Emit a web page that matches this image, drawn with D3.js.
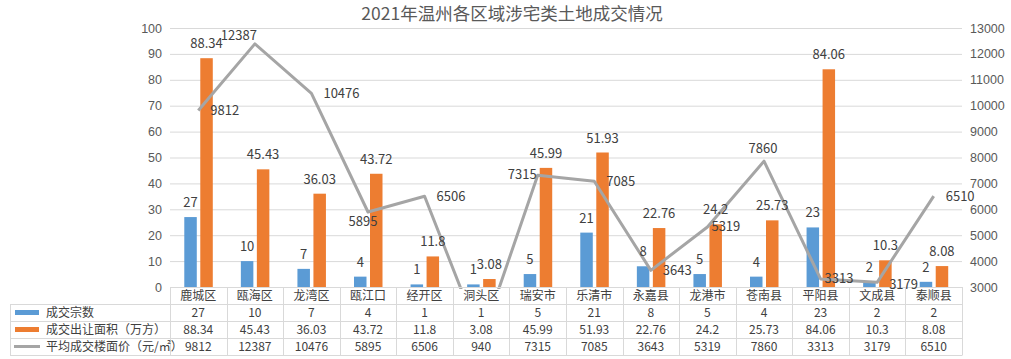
<!DOCTYPE html>
<html><head><meta charset="utf-8">
<script src="https://cdn.jsdelivr.net/npm/d3@7"></script>
<style>
html,body{margin:0;padding:0;background:#fff;}
svg{display:block;font-family:"Microsoft YaHei","Noto Sans CJK SC",sans-serif;}
</style></head>
<body>
<svg id="c" width="1011" height="359"></svg>
<script>
const title = "2021年温州各区域涉宅类土地成交情况";
const categories = ["鹿城区","瓯海区","龙湾区","瓯江口","经开区","洞头区","瑞安市","乐清市","永嘉县","龙港市","苍南县","平阳县","文成县","泰顺县"];
const dealCount = [27,10,7,4,1,1,5,21,8,5,4,23,2,2];
const dealArea = [88.34,45.43,36.03,43.72,11.8,3.08,45.99,51.93,22.76,24.2,25.73,84.06,10.3,8.08];
const avgPrice = [9812,12387,10476,5895,6506,940,7315,7085,3643,5319,7860,3313,3179,6510];
const seriesNames = ["成交宗数","成交出让面积（万方）","平均成交楼面价（元/㎡）"];
const leftTicks = [0,10,20,30,40,50,60,70,80,90,100];
const rightTicks = [3000,4000,5000,6000,7000,8000,9000,10000,11000,12000,13000];
// label placement keywords for line labels (style)
const lineLabelPos = ["r","al","r","b","r",null,"l","r","r","rn","a","rn","rb","r"];

const svg = d3.select("#c");
const L=170,R=962,T=28,B=287;
const colors = {blue:"#5B9BD5",orange:"#ED7D31",gray:"#A5A5A5",grid:"#D9D9D9",text:"#404040",axis:"#595959"};

const x = d3.scaleBand().domain(categories).range([L,R]);
const yL = d3.scaleLinear().domain([0,100]).range([B,T]);
const yR = d3.scaleLinear().domain([3000,13000]).range([B,T]);
const cx = c => x(c)+x.bandwidth()/2;

// title
svg.append("text").attr("x",512).attr("y",20).attr("text-anchor","middle")
  .attr("font-size",17.5).attr("fill",colors.axis).text(title);

// grid
svg.append("g").selectAll("line").data(leftTicks.filter(d=>d>0)).join("line")
  .attr("x1",L).attr("x2",R).attr("y1",d=>yL(d)+0.5).attr("y2",d=>yL(d)+0.5)
  .attr("stroke",colors.grid).attr("stroke-width",1);

// left axis
const axL = d3.axisLeft(yL).tickValues(leftTicks).tickSize(0).tickPadding(8);
const gL = svg.append("g").attr("transform",`translate(${L},0)`).call(axL);
gL.select(".domain").remove();
gL.selectAll("text").attr("font-size",12.5).attr("fill",colors.axis).attr("font-family",null);

// right axis
const axR = d3.axisRight(yR).tickValues(rightTicks).tickFormat(d3.format("d")).tickSize(0).tickPadding(8);
const gR = svg.append("g").attr("transform",`translate(${R},0)`).call(axR);
gR.select(".domain").remove();
gR.selectAll("text").attr("font-size",12.5).attr("fill",colors.axis).attr("font-family",null);

// bars
const bw = 12.5;
svg.append("g").selectAll("rect").data(categories).join("rect")
  .attr("x",(c)=>cx(c)-14).attr("width",bw)
  .attr("y",(c,i)=>yL(dealCount[i])).attr("height",(c,i)=>B-yL(dealCount[i]))
  .attr("fill",colors.blue);
svg.append("g").selectAll("rect").data(categories).join("rect")
  .attr("x",(c)=>cx(c)+2).attr("width",bw)
  .attr("y",(c,i)=>yL(dealArea[i])).attr("height",(c,i)=>B-yL(dealArea[i]))
  .attr("fill",colors.orange);

// line (clipped to plot)
svg.append("clipPath").attr("id","pc").append("rect").attr("x",0).attr("y",0).attr("width",1011).attr("height",B+2);
const line = d3.line().x((d,i)=>cx(categories[i])).y(d=>yR(d));
svg.append("path").datum(avgPrice).attr("d",line).attr("fill","none")
  .attr("stroke",colors.gray).attr("stroke-width",3).attr("stroke-linejoin","round")
  .attr("clip-path","url(#pc)");

// axis baseline
svg.append("line").attr("x1",L).attr("x2",R).attr("y1",B+0.5).attr("y2",B+0.5).attr("stroke",colors.grid);

// bar labels
svg.append("g").selectAll("text").data(categories).join("text")
  .attr("x",c=>cx(c)-14+bw/2).attr("y",(c,i)=>yL(dealCount[i])-10)
  .attr("text-anchor","middle").attr("font-size",13).attr("fill",colors.text)
  .text((c,i)=>dealCount[i]);
svg.append("g").selectAll("text").data(categories).join("text")
  .attr("x",c=>cx(c)+2+bw/2).attr("y",(c,i)=>yL(dealArea[i])-10)
  .attr("text-anchor","middle").attr("font-size",13).attr("fill",colors.text)
  .text((c,i)=>dealArea[i]);

// line labels
const posMap = {
  r:{dx:12,dy:4.5,a:"start"}, rn:{dx:4,dy:4,a:"start"}, rb:{dx:12,dy:7,a:"start"},
  al:{dx:2,dy:-4,a:"end"}, b:{dx:-5,dy:13.5,a:"middle"}, l:{dx:-1,dy:4,a:"end"},
  a:{dx:-1,dy:-8,a:"middle"}
};
svg.append("g").selectAll("text").data(categories.filter((c,i)=>lineLabelPos[i])).join("text")
  .each(function(c){
    const i = categories.indexOf(c);
    const p = posMap[lineLabelPos[i]];
    d3.select(this).attr("x",cx(c)+p.dx).attr("y",yR(avgPrice[i])+p.dy)
      .attr("text-anchor",p.a);
  })
  .attr("font-size",13).attr("fill",colors.text)
  .text(c=>avgPrice[categories.indexOf(c)]);

// data table
const tL = 10, rowTops=[304,321,338,355];
const tg = svg.append("g");
rowTops.forEach(y=>tg.append("line").attr("x1",tL).attr("x2",R).attr("y1",y+0.5).attr("y2",y+0.5).attr("stroke",colors.grid));
tg.append("line").attr("x1",tL+0.5).attr("x2",tL+0.5).attr("y1",304).attr("y2",355.5).attr("stroke",colors.grid);
const bounds = categories.map(c=>x(c)).concat([R]);
tg.selectAll("line.v").data(bounds).join("line").attr("class","v")
  .attr("x1",d=>Math.round(d)+0.5).attr("x2",d=>Math.round(d)+0.5).attr("y1",B).attr("y2",355.5).attr("stroke",colors.grid);

// category labels
tg.append("g").selectAll("text").data(categories).join("text")
  .attr("x",c=>cx(c)).attr("y",300).attr("text-anchor","middle")
  .attr("font-size",12).attr("fill",colors.text).text(c=>c);

const rows = [dealCount,dealArea,avgPrice];
rows.forEach((arr,r)=>{
  const yc = rowTops[r]+8.5;
  tg.append("g").selectAll("text").data(categories).join("text")
    .attr("x",c=>cx(c)).attr("y",yc+4.5).attr("text-anchor","middle")
    .attr("font-size",12).attr("fill",colors.text).text((c,i)=>arr[i]);
  tg.append("text").attr("x",46).attr("y",yc+4.5).attr("font-size",12).attr("fill",colors.text).text(seriesNames[r]);
});
// legend keys
tg.append("rect").attr("x",15).attr("y",rowTops[0]+6).attr("width",24).attr("height",5).attr("fill",colors.blue);
tg.append("rect").attr("x",15).attr("y",rowTops[1]+6).attr("width",24).attr("height",5).attr("fill",colors.orange);
tg.append("line").attr("x1",14).attr("x2",40).attr("y1",rowTops[2]+8.5).attr("y2",rowTops[2]+8.5).attr("stroke",colors.gray).attr("stroke-width",3);
</script>
</body></html>
